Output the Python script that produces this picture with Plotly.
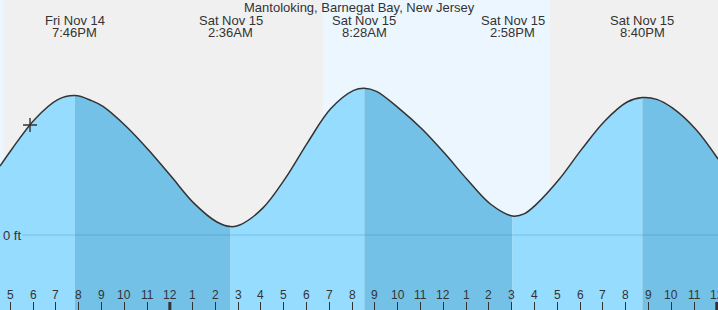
import plotly.graph_objects as go

TITLE = "Mantoloking, Barnegat Bay, New Jersey"

# ---- data (hours counted from Fri Nov 14 00:00, heights in ft) ----
tide_hours = [16.48, 17.0, 18.0, 19.0, 19.77, 20.5, 21.0, 22.0, 23.0, 24.0,
              25.0, 26.0, 26.60, 27.0, 28.0, 29.0, 30.0, 31.0, 32.0, 32.47,
              33.0, 34.0, 35.0, 36.0, 37.0, 38.0, 38.97, 39.5, 40.0, 41.0,
              42.0, 43.0, 44.0, 44.67, 45.3, 46.0, 47.0, 47.99]
tide_ft = [0.344, 0.429, 0.578, 0.676, 0.697, 0.672, 0.643, 0.545, 0.425, 0.292,
           0.158, 0.065, 0.042, 0.050, 0.133, 0.283, 0.466, 0.632, 0.723, 0.734,
           0.718, 0.632, 0.530, 0.407, 0.275, 0.155, 0.095, 0.107, 0.152, 0.276,
           0.428, 0.568, 0.665, 0.687, 0.678, 0.634, 0.530, 0.380]

extreme_hours = [19.77, 26.60, 32.47, 38.97, 44.67]
extreme_dates = ["Fri Nov 14", "Sat Nov 15", "Sat Nov 15", "Sat Nov 15", "Sat Nov 15"]
extreme_times = ["7:46PM", "2:36AM", "8:28AM", "2:58PM", "8:40PM"]

# daylight intervals (start, end) in hours
day_starts = [16.40, 30.64]
day_ends = [16.61, 40.62]

now_hour = 17.80
now_ft = 0.550

tick_hours = list(range(17, 49))
tick_labels = ["5", "6", "7", "8", "9", "10", "11", "12", "1", "2", "3", "4",
               "5", "6", "7", "8", "9", "10", "11", "12", "1", "2", "3", "4",
               "5", "6", "7", "8", "9", "10", "11", "12"]
midnight_hours = [24, 48]

# ---- styling ----
X_RANGE = [16.482, 47.987]
Y_RANGE = [-0.375, 1.175]
TICK_SHIFT = -0.066
NIGHT = "#f0f0f0"
DAY = "#ecf6ff"
RISE = "#96dcff"
FALL = "#73c1e6"
TXT = "#333333"
FONT = "Liberation Sans, Arial, sans-serif"

fig = go.Figure()

# split series at extremes
idx = [tide_hours.index(h) for h in extreme_hours]
bounds = [0] + idx + [len(tide_hours) - 1]
for a, b in zip(bounds[:-1], bounds[1:]):
    xs = tide_hours[a:b + 1]
    ys = tide_ft[a:b + 1]
    color = RISE if ys[-1] > ys[0] else FALL
    fig.add_trace(go.Scatter(x=[xs[0], xs[-1]], y=[Y_RANGE[0], Y_RANGE[0]],
                             mode="lines", line=dict(width=0), hoverinfo="skip",
                             showlegend=False))
    fig.add_trace(go.Scatter(x=xs, y=ys, mode="lines", fill="tonexty",
                             fillcolor=color, line=dict(width=0, shape="spline"),
                             hoverinfo="skip", showlegend=False))

# curve line
fig.add_trace(go.Scatter(x=tide_hours, y=tide_ft, mode="lines",
                         line=dict(color=TXT, width=1.5, shape="spline"),
                         hoverinfo="skip", showlegend=False))
# current time marker
fig.add_trace(go.Scatter(x=[now_hour], y=[now_ft], mode="markers",
                         marker=dict(symbol="cross-thin", size=10,
                                     line=dict(color=TXT, width=1.4)),
                         hoverinfo="skip", showlegend=False))

shapes = []
for s, e in zip(day_starts, day_ends):
    shapes.append(dict(type="rect", xref="x", yref="paper", x0=s, x1=e, y0=0, y1=1,
                       fillcolor=DAY, line=dict(width=0), layer="below"))
shapes.append(dict(type="line", xref="paper", yref="y", x0=22 / 718, x1=1, y0=0, y1=0,
                   line=dict(color="rgba(40,120,170,0.28)", width=1), layer="above"))
for m in midnight_hours:
    shapes.append(dict(type="line", xref="x", yref="paper", x0=m + TICK_SHIFT,
                       x1=m + TICK_SHIFT, y0=0, y1=8 / 310,
                       line=dict(color=TXT, width=3), layer="above"))

annotations = [dict(text=TITLE, xref="paper", yref="paper", x=0.5, y=1,
                    xanchor="center", yanchor="top", yshift=2, showarrow=False,
                    font=dict(family=FONT, size=13, color=TXT))]
for h, d, t in zip(extreme_hours, extreme_dates, extreme_times):
    annotations.append(dict(text=d, xref="x", yref="paper", x=h, y=1, xanchor="center",
                            yanchor="top", yshift=-12, borderpad=0, showarrow=False,
                            font=dict(family=FONT, size=13, color=TXT)))
    annotations.append(dict(text=t, xref="x", yref="paper", x=h, y=1, xanchor="center",
                            yanchor="top", yshift=-24, borderpad=0, showarrow=False,
                            font=dict(family=FONT, size=13, color=TXT)))
for h, lab in zip(tick_hours, tick_labels):
    annotations.append(dict(text=lab, xref="x", yref="paper", x=h + TICK_SHIFT, y=0,
                            xanchor="center", yanchor="bottom", yshift=6,
                            showarrow=False, font=dict(family=FONT, size=12, color=TXT)))
annotations.append(dict(text="0 ft", xref="paper", yref="y", x=0, y=0, xanchor="left",
                        yanchor="middle", xshift=1, showarrow=False,
                        font=dict(family=FONT, size=13, color=TXT)))

fig.update_layout(
    width=718, height=310, margin=dict(l=0, r=0, t=0, b=0),
    paper_bgcolor=NIGHT, plot_bgcolor=NIGHT,
    shapes=shapes, annotations=annotations, showlegend=False,
    xaxis=dict(range=X_RANGE, showgrid=False, zeroline=False, showline=False,
               tickvals=[h + TICK_SHIFT for h in tick_hours], ticks="inside",
               ticklen=8, tickwidth=1, tickcolor=TXT, showticklabels=False,
               fixedrange=True),
    yaxis=dict(range=Y_RANGE, showgrid=False, zeroline=False, showline=False,
               showticklabels=False, ticks="", fixedrange=True),
)

fig.write_html("out.html", config={"displayModeBar": False})
